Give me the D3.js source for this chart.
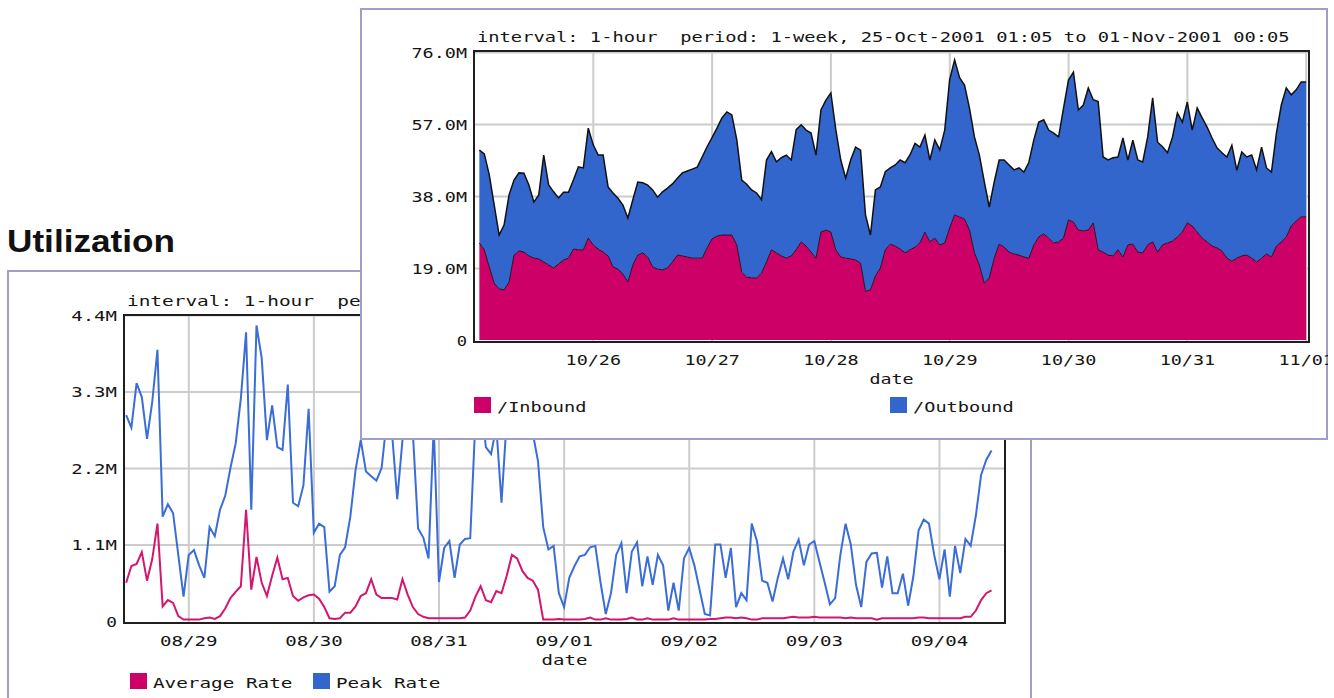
<!DOCTYPE html>
<html>
<head>
<meta charset="utf-8">
<script src="https://cdn.jsdelivr.net/npm/d3@7"></script>
<style>
  body { margin: 0; background: #fff; }
  svg text { font-family: "DejaVu Sans Mono", "Liberation Mono", monospace; font-size: 14px; fill: #151515; white-space: pre; }
</style>
</head>
<body>
<div id="outer"></div>
<script>
////////// Data : front chart (1-week, hourly, stacked) //////////
const frontTitle = 'interval: 1-hour  period: 1-week, 25-Oct-2001 01:05 to 01-Nov-2001 00:05';
const frontStart = Date.UTC(2001, 9, 25, 1, 5);
const frontSeriesNames = ['/Inbound', '/Outbound'];
// values in M, one per hour
const inboundM = [
  25.6,23.8,19.3,15.0,13.5,13.2,15.3,22.4,23.5,23.2,
  22.2,21.6,21.4,20.6,19.8,19.0,20.1,21.1,21.6,24.0,
  23.8,23.8,26.9,25.1,24.0,23.2,22.2,19.3,18.7,17.4,
  15.3,19.8,22.4,23.0,21.9,19.3,18.7,18.5,19.0,20.6,
  22.4,22.2,21.9,21.6,21.6,21.6,24.3,26.7,27.4,27.7,
  27.7,27.7,25.1,17.9,16.6,16.4,16.4,17.7,20.6,23.8,
  23.0,22.2,21.6,22.2,23.8,25.9,24.8,23.2,21.6,28.5,
  29.0,28.5,23.8,21.9,21.6,21.4,21.1,20.3,12.9,13.2,
  16.9,19.0,23.8,25.3,24.8,24.0,23.0,23.8,24.5,25.6,
  28.5,25.9,26.9,25.1,25.6,29.6,33.0,32.5,31.9,29.0,
  23.0,19.8,15.0,16.4,21.6,25.3,24.5,23.2,22.7,22.4,
  21.9,21.6,25.1,27.2,28.0,26.9,25.6,25.9,26.9,31.7,
  31.1,29.0,28.8,29.0,30.9,23.8,23.2,22.4,22.2,23.8,
  21.9,25.1,25.3,23.2,23.0,25.1,25.9,23.2,25.1,25.6,
  26.1,27.2,28.5,30.9,30.1,28.5,26.9,25.9,24.8,24.3,
  23.5,21.6,20.8,21.6,22.2,22.4,21.6,20.6,21.6,22.7,
  21.9,24.8,25.9,27.2,30.1,31.4,32.5,32.5
];
const outboundM = [
  24.5,25.3,24.3,20.6,14.2,17.2,23.0,19.8,20.6,20.8,
  18.7,14.8,16.9,28.2,21.1,20.1,17.4,17.9,17.4,18.2,
  21.9,21.6,29.0,26.4,24.8,25.6,18.2,19.5,18.7,18.2,
  16.9,17.2,19.3,18.5,19.0,20.3,19.0,20.6,21.1,20.6,
  20.3,21.9,22.7,23.5,24.0,26.7,26.7,26.7,28.5,30.9,
  32.5,31.7,27.7,24.3,24.5,23.2,22.4,19.3,26.9,25.9,
  24.0,25.9,27.2,25.3,31.7,30.9,30.6,31.4,27.2,32.2,
  34.3,36.7,31.7,25.6,21.1,26.1,29.8,29.8,20.1,14.5,
  22.7,21.4,20.6,20.1,21.4,23.5,23.8,25.1,27.4,25.3,
  25.6,21.6,25.9,25.1,29.8,39.1,40.9,36.7,35.4,32.2,
  30.6,29.0,26.7,18.7,20.1,22.2,23.0,23.0,22.2,23.0,
  22.4,25.3,27.7,30.3,30.1,28.5,29.0,27.7,34.3,36.9,
  39.6,31.7,33.2,37.5,32.5,39.1,25.1,25.1,25.9,24.5,
  31.4,22.4,27.4,24.3,24.0,28.5,38.0,29.0,25.9,23.8,
  27.4,32.7,29.0,31.9,25.3,32.7,31.7,30.3,28.5,26.4,
  25.9,26.7,30.6,23.2,27.4,25.9,27.2,24.3,29.3,22.7,
  22.4,29.8,36.2,39.3,34.6,34.6,35.6,35.6
];
const frontYTicks = [0, 19, 38, 57, 76];
const frontYLabels = ['0', '19.0M', '38.0M', '57.0M', '76.0M'];
const frontDays = ['2001-10-26','2001-10-27','2001-10-28','2001-10-29','2001-10-30','2001-10-31','2001-11-01'];

////////// Data : back chart (Utilization, hourly lines) //////////
const backTitle = 'interval: 1-hour  period: 1-week, 28-Aug-2001 12:05 to 04-Sep-2001 10:05';
const backStart = Date.UTC(2001, 7, 28, 12, 5);
const backSeriesNames = ['Average Rate', 'Peak Rate'];
const averageRateM = [
  0.55,0.79,0.82,0.99,0.58,0.89,1.40,0.21,0.30,0.26,
  0.07,0.02,0.02,0.02,0.02,0.04,0.05,0.03,0.07,0.18,
  0.33,0.42,0.50,1.60,0.45,0.92,0.55,0.36,0.65,0.91,
  0.60,0.62,0.36,0.29,0.34,0.37,0.38,0.32,0.20,0.04,
  0.03,0.04,0.12,0.12,0.21,0.36,0.40,0.60,0.38,0.33,
  0.33,0.33,0.31,0.60,0.38,0.20,0.10,0.06,0.04,0.04,
  0.04,0.04,0.04,0.04,0.04,0.05,0.15,0.35,0.50,0.30,
  0.27,0.43,0.40,0.65,0.95,0.90,0.72,0.62,0.58,0.45,
  0.02,0.02,0.02,0.03,0.02,0.02,0.02,0.02,0.03,0.05,
  0.02,0.02,0.04,0.02,0.02,0.02,0.03,0.05,0.02,0.02,
  0.04,0.02,0.02,0.02,0.02,0.04,0.02,0.02,0.02,0.02,
  0.02,0.02,0.03,0.03,0.04,0.05,0.05,0.04,0.05,0.04,
  0.02,0.02,0.04,0.04,0.04,0.04,0.04,0.05,0.06,0.05,
  0.05,0.05,0.06,0.05,0.05,0.05,0.05,0.05,0.04,0.05,
  0.04,0.04,0.04,0.04,0.02,0.04,0.04,0.04,0.04,0.04,
  0.04,0.04,0.05,0.05,0.04,0.04,0.04,0.04,0.04,0.04,
  0.04,0.06,0.06,0.15,0.30,0.40,0.44
];
const peakRateM = [
  2.96,2.78,3.42,3.22,2.62,3.15,3.90,1.50,1.68,1.55,
  0.95,0.35,0.95,1.02,0.80,0.62,1.35,1.22,1.60,1.80,
  2.20,2.55,3.20,4.15,1.60,4.25,3.78,2.60,3.10,2.50,
  2.46,3.40,1.70,1.65,1.95,3.05,1.27,1.40,1.35,0.42,
  0.50,0.95,1.06,1.50,2.17,2.60,2.15,2.08,2.02,2.20,
  2.90,2.70,1.75,2.60,3.10,2.70,1.33,1.20,0.90,2.80,
  0.56,1.05,1.15,0.62,1.10,1.18,1.19,2.90,3.20,2.50,
  2.40,2.80,1.70,2.90,3.30,3.00,2.90,2.80,2.70,2.30,
  1.35,1.03,1.08,0.40,0.20,0.62,0.79,0.93,0.95,1.06,
  1.08,0.55,0.10,0.40,0.95,1.12,0.40,1.00,1.13,0.50,
  0.93,0.52,0.95,0.80,0.15,0.55,0.15,0.90,1.05,0.80,
  0.45,0.10,0.08,1.10,1.10,0.62,1.05,0.20,0.40,0.30,
  1.40,1.15,0.58,0.55,0.28,0.62,0.90,0.60,1.00,1.17,
  0.80,1.10,1.15,0.85,0.55,0.24,0.33,0.95,1.40,1.10,
  0.52,0.20,0.85,0.97,0.98,0.48,0.93,0.40,0.40,0.68,
  0.22,0.64,1.30,1.46,1.40,0.95,0.60,1.03,0.35,1.08,
  0.69,1.18,1.08,1.52,2.10,2.32,2.45
];
const backYTicks = [0, 1.1, 2.2, 3.3, 4.4];
const backYLabels = ['0', '1.1M', '2.2M', '3.3M', '4.4M'];
const backDays = ['2001-08-29','2001-08-30','2001-08-31','2001-09-01','2001-09-02','2001-09-03','2001-09-04'];

////////// Hard Coded Defs //////////
const pink = '#cc0066';
const blue = '#3366cc';
const panelStroke = '#9e9ec6';
const gridColor = '#cccccc';
const frameColor = '#1e1e1e';
const hour = 3600 * 1000;
const dayFmt = d3.utcFormat('%m/%d');
const parseDay = d3.utcParse('%Y-%m-%d');

// stretches monospace text so one char takes `adv` px (old pixel font look)
const stretch = (sel, adv) => sel
  .attr('textLength', function () { return this.textContent.length * adv - 1; })
  .attr('lengthAdjust', 'spacingAndGlyphs');

const svg = d3.select('#outer').append('svg')
  .attr('width', 1334)
  .attr('height', 698);

////////////////////////////////////////////////////////////////
// draws frame, grid, axes, legend for one panel
////////////////////////////////////////////////////////////////
const drawAxes = (g, o) => {
  const { x, y, left, top, right, bottom, days, yTicks, yLabels, adv, title } = o;

  // grid
  g.append('g')
    .attr('transform', `translate(0,${bottom})`)
    .call(d3.axisBottom(x).tickValues(days).tickSize(-(bottom - top)).tickFormat(''))
    .call(a => a.select('.domain').remove())
    .selectAll('line').attr('stroke', gridColor).attr('stroke-width', 2);
  g.append('g')
    .attr('transform', `translate(${left},0)`)
    .call(d3.axisLeft(y).tickValues(yTicks.slice(1)).tickSize(-(right - left)).tickFormat(''))
    .call(a => a.select('.domain').remove())
    .selectAll('line').attr('stroke', gridColor).attr('stroke-width', 2);

  // tick labels
  const xAxis = g.append('g')
    .attr('class', 'xLabels')
    .attr('transform', `translate(0,${bottom})`)
    .call(d3.axisBottom(x).tickValues(days).tickSize(0).tickFormat(dayFmt));
  xAxis.select('.domain').remove();
  xAxis.selectAll('text').attr('y', 23).attr('dy', null).style('font-size', '14px').attr('fill', '#151515')
    .call(stretch, adv);

  const yAxis = g.append('g')
    .attr('transform', `translate(${left},0)`)
    .call(d3.axisLeft(y).tickValues(yTicks).tickSize(0).tickPadding(7).tickFormat((d, i) => yLabels[i]));
  yAxis.select('.domain').remove();
  yAxis.selectAll('text').attr('dy', '0.36em').style('font-size', '14px').attr('fill', '#151515')
    .call(stretch, adv);

  // title + axis name
  g.append('text')
    .attr('x', left + 3)
    .attr('y', top - 9)
    .text(title)
    .call(stretch, adv);
  g.append('text')
    .attr('x', (left + right) / 2)
    .attr('y', bottom + 42)
    .attr('text-anchor', 'middle')
    .text('date')
    .call(stretch, adv);
};

const drawFrame = (g, left, top, right, bottom) => {
  g.append('rect')
    .attr('x', left)
    .attr('y', top)
    .attr('width', right - left)
    .attr('height', bottom - top)
    .attr('fill', 'none')
    .attr('stroke', frameColor)
    .attr('stroke-width', 2);
};

const drawLegend = (g, items, y, adv) => {
  items.forEach(it => {
    g.append('rect')
      .attr('x', it.x).attr('y', y)
      .attr('width', 17).attr('height', 16)
      .attr('fill', it.color);
    g.append('text')
      .attr('x', it.x + 23)
      .attr('y', y + 15)
      .text(it.name)
      .call(stretch, adv);
  });
};

////////////////////////////////////////////////////////////////
// BACK PANEL : Utilization
////////////////////////////////////////////////////////////////
svg.append('text')
  .attr('x', 7)
  .attr('y', 252)
  .text('Utilization')
  .style('font', 'bold 32px "Liberation Sans", Arial, sans-serif')
  .style('fill', '#111')
  .attr('textLength', 168)
  .attr('lengthAdjust', 'spacingAndGlyphs');

const back = svg.append('g').attr('class', 'backPanel');
back.append('rect')
  .attr('x', 8).attr('y', 271)
  .attr('width', 1023).attr('height', 470)
  .attr('fill', '#fff')
  .attr('stroke', panelStroke)
  .attr('stroke-width', 2);

const bL = 124, bT = 315, bR = 1005, bB = 623;
const bx = d3.scaleUtc()
  .domain([new Date(Date.UTC(2001, 7, 28, 11, 40)), new Date(Date.UTC(2001, 8, 4, 12, 40))])
  .range([bL, bR]);
const by = d3.scaleLinear().domain([0, 4.4]).range([621, bT]);

drawAxes(back, {
  x: bx, y: by, left: bL, top: bT, right: bR, bottom: bB,
  days: backDays.map(parseDay), yTicks: backYTicks, yLabels: backYLabels,
  adv: 11.7, title: backTitle
});

const backData = peakRateM.map((v, i) => ({
  t: new Date(backStart + i * hour),
  peak: v,
  avg: averageRateM[i]
}));

back.append('path')
  .datum(backData)
  .attr('fill', 'none')
  .attr('stroke', '#3a6dd6')
  .attr('stroke-width', 2)
  .attr('d', d3.line().x(d => bx(d.t)).y(d => by(d.peak)));

back.append('path')
  .datum(backData)
  .attr('fill', 'none')
  .attr('stroke', '#d4166e')
  .attr('stroke-width', 2)
  .attr('d', d3.line().x(d => bx(d.t)).y(d => by(d.avg)));

drawFrame(back, bL, bT, bR, bB);
drawLegend(back, [
  { x: 130, color: pink, name: backSeriesNames[0] },
  { x: 313, color: blue, name: backSeriesNames[1] }
], 673, 11.7);

////////////////////////////////////////////////////////////////
// FRONT PANEL : stacked inbound / outbound
////////////////////////////////////////////////////////////////
svg.append('clipPath').attr('id', 'frontClip')
  .append('rect').attr('x', 360).attr('y', 8).attr('width', 968).attr('height', 432);

const front = svg.append('g').attr('class', 'frontPanel').attr('clip-path', 'url(#frontClip)');
front.append('rect')
  .attr('x', 361).attr('y', 9)
  .attr('width', 966).attr('height', 430)
  .attr('fill', '#fff')
  .attr('stroke', panelStroke)
  .attr('stroke-width', 2);

const fL = 474, fT = 51, fR = 1309, fB = 342;
const fx = d3.scaleUtc()
  .domain([new Date(Date.UTC(2001, 9, 25, 0, 0)), new Date(Date.UTC(2001, 10, 1, 0, 40))])
  .range([fL, fR]);
const fy = d3.scaleLinear().domain([0, 76]).range([340, 52]);

drawAxes(front, {
  x: fx, y: fy, left: fL, top: fT, right: fR, bottom: fB,
  days: frontDays.map(parseDay), yTicks: frontYTicks, yLabels: frontYLabels,
  adv: 11.3, title: frontTitle
});

const frontData = inboundM.map((v, i) => ({
  t: new Date(frontStart + i * hour),
  inbound: v,
  outbound: outboundM[i]
}));
const stacked = d3.stack().keys(['inbound', 'outbound'])(frontData);
const areaGen = d3.area()
  .x(d => fx(d.data.t))
  .y0(d => fy(d[0]))
  .y1(d => fy(d[1]));
const topLine = d3.line()
  .x(d => fx(d.data.t))
  .y(d => fy(d[1]));

front.selectAll('.layer')
  .data(stacked)
  .join('path')
  .attr('class', 'layer')
  .attr('fill', (d, i) => i === 0 ? pink : blue)
  .attr('d', areaGen);

front.append('path')
  .datum(stacked[0])
  .attr('fill', 'none')
  .attr('stroke', '#2a1020')
  .attr('stroke-width', 1)
  .attr('d', topLine);

front.append('path')
  .datum(stacked[1])
  .attr('fill', 'none')
  .attr('stroke', '#111')
  .attr('stroke-width', 1.5)
  .attr('d', topLine);

drawFrame(front, fL, fT, fR, fB);
drawLegend(front, [
  { x: 474, color: pink, name: frontSeriesNames[0] },
  { x: 890, color: blue, name: frontSeriesNames[1] }
], 397, 11.3);
</script>
</body>
</html>
